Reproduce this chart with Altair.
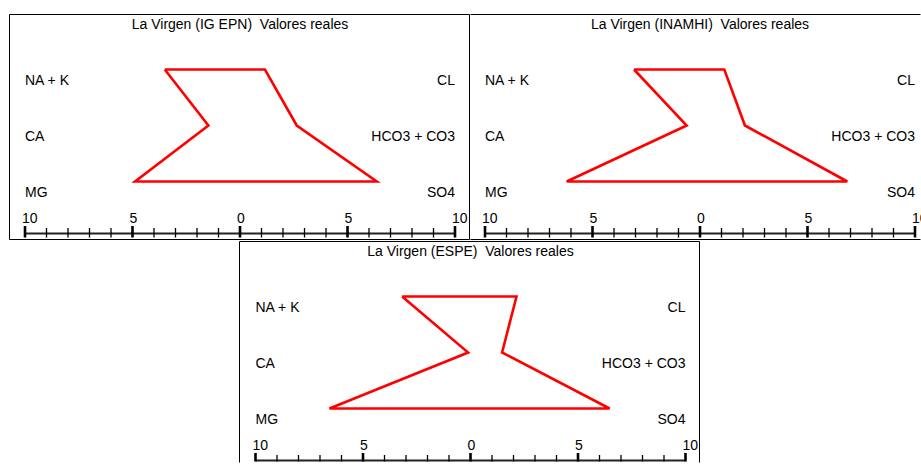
import altair as alt
import pandas as pd

FONT = "Liberation Sans"
FONT_SIZE = 14
RED = "#ff0000"
INK = "#000000"

# Stations and ion groups of the Stiff diagrams
stations = ["IG EPN", "INAMHI", "ESPE"]
cation_names = ["NA + K", "CA", "MG"]
anion_names = ["CL", "HCO3 + CO3", "SO4"]

# Concentrations (meq/l) per station, cations on the left, anions on the right
ig_epn_cations = [3.50, 1.47, 4.88]
ig_epn_anions = [1.16, 2.64, 6.36]
inamhi_cations = [3.07, 0.62, 6.20]
inamhi_anions = [1.13, 2.09, 6.85]
espe_cations = [3.18, 0.11, 6.56]
espe_anions = [2.14, 1.47, 6.47]

# Horizontal scale: one tick per unit, labelled every five
scale_ticks = list(range(-10, 11))
major_ticks = [-10, -5, 0, 5, 10]
major_labels = ["10", "5", "0", "5", "10"]

Y_SCALE = alt.Scale(domain=[0, 2], range=[55.5, 167.5], nice=False)


def frame_rule(x, x2, y, y2):
    # one side of a panel frame, in view pixels
    return alt.Chart(pd.DataFrame({"k": [0]})).mark_rule(color=INK, strokeWidth=1).encode(
        x=alt.value(x), x2=alt.value(x2), y=alt.value(y), y2=alt.value(y2))


def stiff_panel(station, cations, anions, width, height, x_range, sides):
    x_scale = alt.Scale(domain=[-10, 10], range=x_range, nice=False)

    def xq(field):
        return alt.X(f"{field}:Q", scale=x_scale, axis=None)

    def yq(field):
        return alt.Y(f"{field}:Q", scale=Y_SCALE, axis=None)

    # polygon path: NA+K -> CL -> HCO3 -> SO4 -> MG -> CA -> back to NA+K
    path = [(-cations[0], 0), (anions[0], 0), (anions[1], 1), (anions[2], 2),
            (-cations[2], 2), (-cations[1], 1), (-cations[0], 0)]
    poly_df = pd.DataFrame({"x": [p[0] for p in path],
                            "row": [p[1] for p in path],
                            "o": list(range(len(path)))})
    poly = alt.Chart(poly_df).mark_line(
        color=RED, strokeWidth=2.6, strokeJoin="miter"
    ).encode(x=xq("x"), y=yq("row"), order="o:Q")

    left_df = pd.DataFrame({"x": [-10] * 3, "row": [0, 1, 2], "t": cation_names})
    right_df = pd.DataFrame({"x": [10] * 3, "row": [0, 1, 2], "t": anion_names})
    text_style = dict(font=FONT, fontSize=FONT_SIZE, color=INK, baseline="alphabetic", dy=15)
    left_lbl = alt.Chart(left_df).mark_text(align="left", **text_style).encode(
        x=xq("x"), y=yq("row"), text="t:N")
    right_lbl = alt.Chart(right_df).mark_text(align="right", **text_style).encode(
        x=xq("x"), y=yq("row"), text="t:N")

    title_df = pd.DataFrame({"x": [0], "t": [f"La Virgen ({station})\u00a0 Valores reales"]})
    title = alt.Chart(title_df).mark_text(
        font=FONT, fontSize=FONT_SIZE, color=INK, align="center", baseline="alphabetic"
    ).encode(x=xq("x"), y=alt.value(14.5), text="t:N")

    # bottom scale bar
    tick_end = min(223.5, height - 1.5)
    bar_df = pd.DataFrame({"x": [scale_ticks[0]], "x2": [scale_ticks[-1]]})
    bar = alt.Chart(bar_df).mark_rule(color="#222222", strokeWidth=2).encode(
        x=xq("x"), x2="x2:Q", y=alt.value(219.5))

    minor_df = pd.DataFrame({"x": [t for t in scale_ticks if t not in major_ticks]})
    minor = alt.Chart(minor_df).mark_rule(color=INK, strokeWidth=1.3).encode(
        x=xq("x"), y=alt.value(214), y2=alt.value(tick_end))
    major_df = pd.DataFrame({"x": major_ticks, "t": major_labels})
    major = alt.Chart(major_df).mark_rule(color=INK, strokeWidth=2.6).encode(
        x=xq("x"), y=alt.value(212), y2=alt.value(tick_end))
    # labels sit just right of their tick; the view edge cuts any overflow
    tick_lbl = alt.Chart(major_df).mark_text(
        font=FONT, fontSize=FONT_SIZE, color=INK, align="left", baseline="alphabetic",
        dx=-3, clip=True,
    ).encode(x=xq("x"), y=alt.value(208.5), text="t:N")

    # frame sides kept inside the view so they never widen the layout
    lo, xr, yb = 0.5, width - 0.5, height - 0.5
    edges = {
        "top": (lo, xr, lo, lo),
        "bottom": (lo, xr, yb, yb),
        "left": (lo, lo, lo, yb),
        "right": (xr, xr, lo, yb),
    }
    frame = [frame_rule(*edges[s]) for s in sides]

    layers = [poly, left_lbl, right_lbl, title, bar, minor, major, tick_lbl] + frame
    return alt.layer(*layers).properties(width=width, height=height)


ig_epn = stiff_panel(stations[0], ig_epn_cations, ig_epn_anions, 461, 226,
                     [16, 446], ["top", "bottom", "left", "right"])
inamhi = stiff_panel(stations[1], inamhi_cations, inamhi_anions, 451, 226,
                     [15, 445], ["top", "bottom"])
espe = stiff_panel(stations[2], espe_cations, espe_anions, 461, 222,
                   [16.5, 446.5], ["top", "left", "right"])

spacer = alt.Chart(pd.DataFrame({"t": [""]})).mark_text().encode(text="t:N").properties(
    width=230, height=222)

top_row = alt.hconcat(ig_epn, inamhi, spacing=0)
bottom_row = alt.hconcat(spacer, espe, spacing=0)

chart = alt.vconcat(top_row, bottom_row, spacing=1).properties(
    padding={"left": 9, "top": 14, "right": 0, "bottom": 0},
    background="white",
).configure_view(strokeOpacity=0)

chart.save("out.html", embed_options={"renderer": "svg", "actions": False})
